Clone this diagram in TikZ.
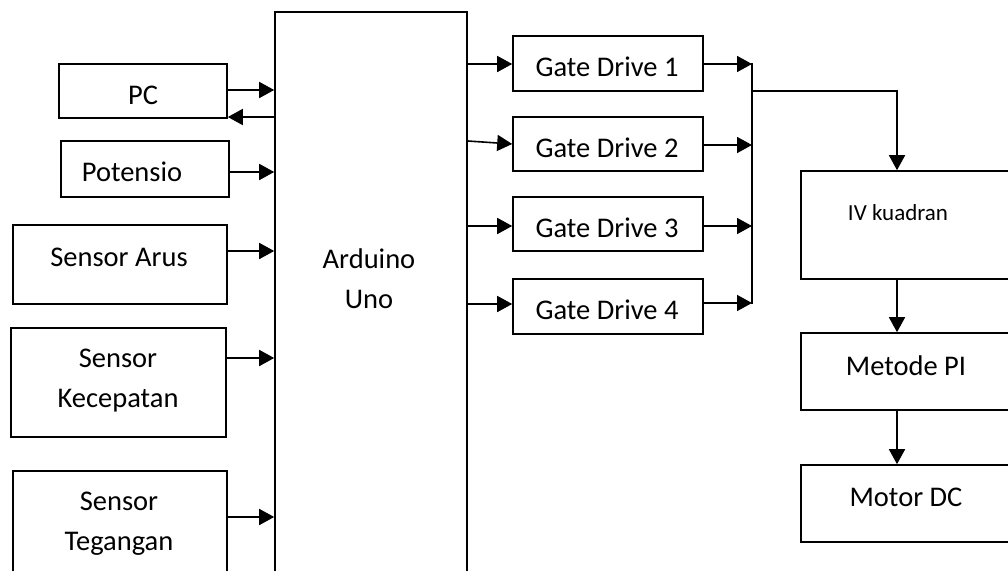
\documentclass[tikz,border=0pt]{standalone}
\usepackage{fontspec}
\setmainfont{Carlito}
\usetikzlibrary{arrows.meta}
\begin{document}
\begin{tikzpicture}[x=1pt,y=-1pt,
  box/.style={draw, rectangle, inner sep=0pt, line width=1.6pt},
  lbl/.style={font=\fontsize{28.5}{40}\selectfont, align=center, inner sep=0pt},
  small/.style={font=\fontsize{23}{30}\selectfont, inner sep=0pt},
  arr/.style={-{Triangle[length=15pt,width=16pt]}, line width=1.6pt},
  wire/.style={line width=1.6pt}]
\useasboundingbox (0,0) rectangle (1008,570);
\clip (0,0) rectangle (1008,570);
% left boxes
\node[box, minimum width=168pt, minimum height=54pt] (pc) at (143,91) {};
\node[box, minimum width=168pt, minimum height=56pt] (pot) at (145,169) {};
\node[box, minimum width=214pt, minimum height=79pt] (arus) at (120,264.5) {};
\node[box, minimum width=215pt, minimum height=109pt] (kec) at (118.5,382.5) {};
\node[box, minimum width=214pt, minimum height=109pt] (teg) at (120,525.5) {};
% Arduino
\node[box, minimum width=192pt, minimum height=588pt] (ard) at (371,306) {};
% gate drives
\node[box, minimum width=190pt, minimum height=55pt] (gd1) at (608,63.5) {};
\node[box, minimum width=190pt, minimum height=54pt] (gd2) at (608,144) {};
\node[box, minimum width=190pt, minimum height=54pt] (gd3) at (608,224) {};
\node[box, minimum width=190pt, minimum height=55pt] (gd4) at (608,306.5) {};
% right column
\node[box, minimum width=212pt, minimum height=108pt] (iv) at (907,225) {};
\node[box, minimum width=212pt, minimum height=77pt] (pi) at (907,371.5) {};
\node[box, minimum width=212pt, minimum height=77pt] (mdc) at (907,503.5) {};
% texts
\node[lbl] (tpc) at (143,95) {PC};
\node[lbl] (tpot) at (132,172) {Potensio};
\node[lbl] (tarus) at (119,257) {Sensor Arus};
\node[lbl] (tkec) at (118,381) {Sensor\\Kecepatan};
\node[lbl] (tteg) at (119,524) {Sensor\\Tegangan};
\node[lbl] (tard) at (369,279) {Arduino\\Uno};
\node[lbl] (tgd1) at (607,67) {Gate Drive 1};
\node[lbl] (tgd2) at (607,147.5) {Gate Drive 2};
\node[lbl] (tgd3) at (607,227.5) {Gate Drive 3};
\node[lbl] (tgd4) at (607,310) {Gate Drive 4};
\node[small] (tiv) at (898,213) {IV kuadran};
\node[lbl] (tpi) at (906,366) {Metode PI};
\node[lbl] (tmdc) at (906,497) {Motor DC};
% helper columns
\coordinate (bus) at (752,0);
\coordinate (col) at (897,0);
% inputs
\draw[arr] (pc.east |- 0,90) -- (ard.west |- 0,90);
\draw[arr] (ard.west |- 0,117) -- (pc.east |- 0,117);
\draw[arr] (pot.east |- 0,172) -- (ard.west |- 0,172);
\draw[arr] (arus.east |- 0,251) -- (ard.west |- 0,251);
\draw[arr] (kec.east |- 0,358) -- (ard.west |- 0,358);
\draw[arr] (teg.east |- 0,517) -- (ard.west |- 0,517);
% outputs to gate drives
\draw[arr] (ard.east |- 0,64) -- (gd1.west |- 0,64);
\draw[arr] (ard.east |- 0,141) -- (gd2.west |- 0,144);
\draw[arr] (ard.east |- 0,226) -- (gd3.west |- 0,226);
\draw[arr] (ard.east |- 0,304) -- (gd4.west |- 0,304);
% gate drives to bus
\draw[arr] (gd1.east |- 0,64) -- (bus |- 0,64);
\draw[arr] (gd2.east |- 0,145) -- (bus |- 0,145);
\draw[arr] (gd3.east |- 0,226) -- (bus |- 0,226);
\draw[arr] (gd4.east |- 0,303) -- (bus |- 0,303);
\draw[wire] (bus |- 0,63) -- (bus |- 0,304);
% bus to IV kuadran and chain
\draw[arr] (bus |- 0,91) -| (col |- iv.north);
\draw[arr] (col |- iv.south) -- (col |- pi.north);
\draw[arr] (col |- pi.south) -- (col |- mdc.north);
\end{tikzpicture}
\end{document}
